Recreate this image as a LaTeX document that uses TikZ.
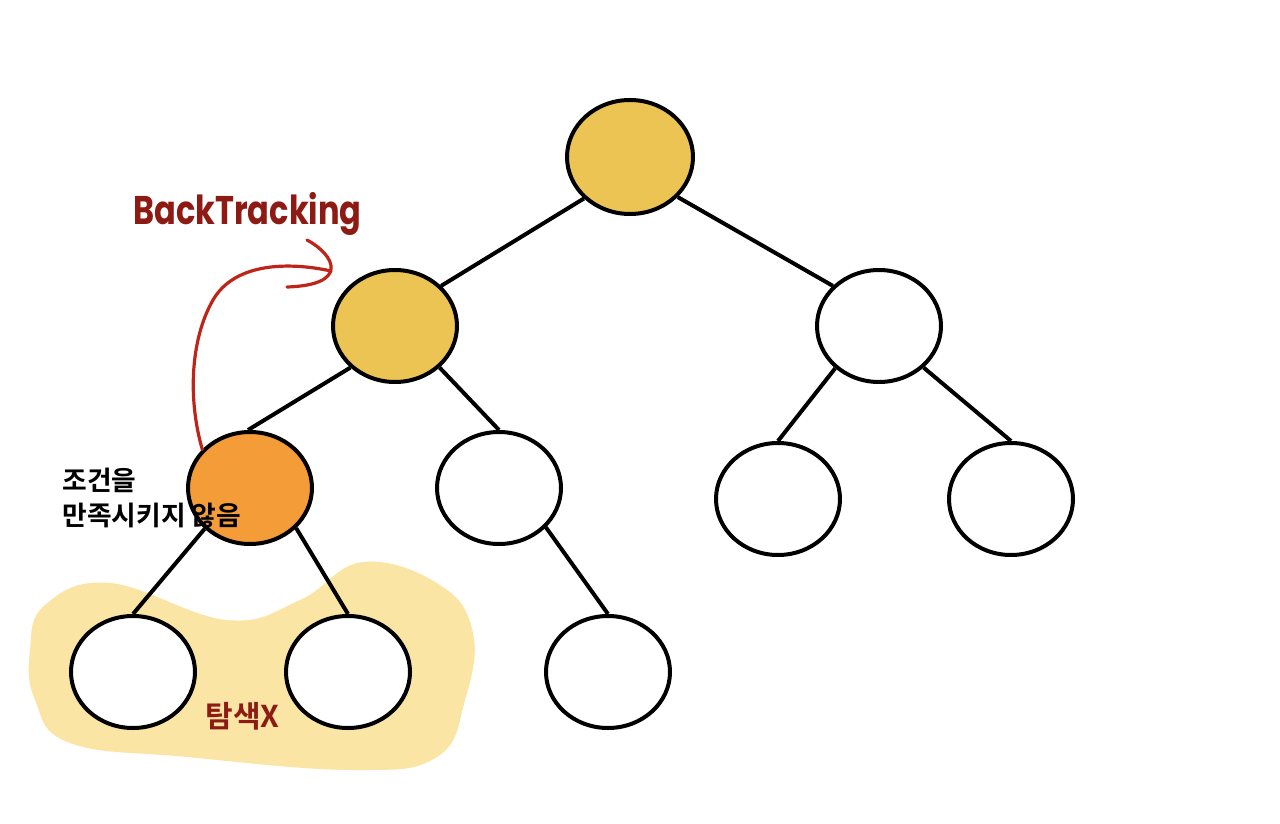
\documentclass[tikz,border=0pt]{standalone}
\usepackage{fontspec}
\setmainfont{Poppins}
\newfontfamily\krb{Noto Sans CJK KR Bold}
\usetikzlibrary{shapes.geometric}
\definecolor{goldfill}{HTML}{EBC454}
\definecolor{orangefill}{HTML}{F39C38}
\definecolor{blobfill}{HTML}{FAE5A5}
\definecolor{arrowred}{HTML}{BE2518}
\definecolor{textred}{HTML}{8E1A14}
\tikzset{
  tnode/.style={ellipse, draw=black, line width=2pt, fill=white, minimum width=62pt, minimum height=56pt, inner sep=0pt},
  edge/.style={line width=2pt, black},
  redline/.style={arrowred, line width=1.6pt, line cap=round},
}
\begin{document}
\begin{tikzpicture}[x=0.5pt,y=-0.5pt]
\useasboundingbox (0,0) rectangle (1280,824);
% highlight blob
\fill[blobfill] plot[smooth cycle, tension=0.7] coordinates {(30,650) (45,605) (110,583) (227,620) (300,600) (363,562) (440,585) (473,633) (465,700) (437,757) (353,770) (187,757) (70,743) (35,700)};
% nodes
\node[tnode, fill=goldfill, minimum width=63pt, minimum height=57pt] (r) at (630,157) {};
\node[tnode, fill=goldfill] (a) at (395,326) {};
\node[tnode] (b) at (879,326) {};
\node[tnode, fill=orangefill] (c) at (250,488) {};
\node[tnode] (d) at (499,488) {};
\node[tnode] (e) at (778,499) {};
\node[tnode] (f) at (1011,499) {};
\node[tnode] (g) at (133,672) {};
\node[tnode] (h) at (348,672) {};
\node[tnode] (i) at (608,672) {};
% edges
\draw[edge] (r.222) -- (a.41);
\draw[edge] (r.-40) -- (b.139);
\draw[edge] (a.223) -- (c.92);
\draw[edge] (a.-43) -- (d.north);
\draw[edge] (b.224) -- (e.north);
\draw[edge] (b.-43) -- (f.north);
\draw[edge] (c.222) -- (g.north);
\draw[edge] (c.-41) -- (h.north);
\draw[edge] (d.-40) -- (i.north);
% backtracking arrow
\coordinate (tip) at (331,271);
\coordinate (hs) at (307,240);
\coordinate (he) at (287,287);
\coordinate (mid) at (213,300);
\draw[redline] (c.141) .. controls (188,400) and (190,340) .. (mid) .. controls (235,262) and (290,262) .. (tip);
\draw[redline] (hs) .. controls (335,255) and (350,285) .. (he);
% labels
\node[anchor=west, text=textred, font=\bfseries\fontsize{20}{24}\selectfont, inner sep=0pt] (bt) at (133,214) {\scalebox{0.8}[1]{BackTracking}};
\node[anchor=north west, align=left, font=\krb\fontsize{13.4}{17.5}\selectfont, inner sep=0pt] (cond) at (62,468) {조건을\\만족시키지 않음};
\node[anchor=west, text=textred, font=\krb\fontsize{15}{17}\selectfont, inner sep=0pt] (nx) at (205,716) {탐색X};
\end{tikzpicture}
\end{document}
